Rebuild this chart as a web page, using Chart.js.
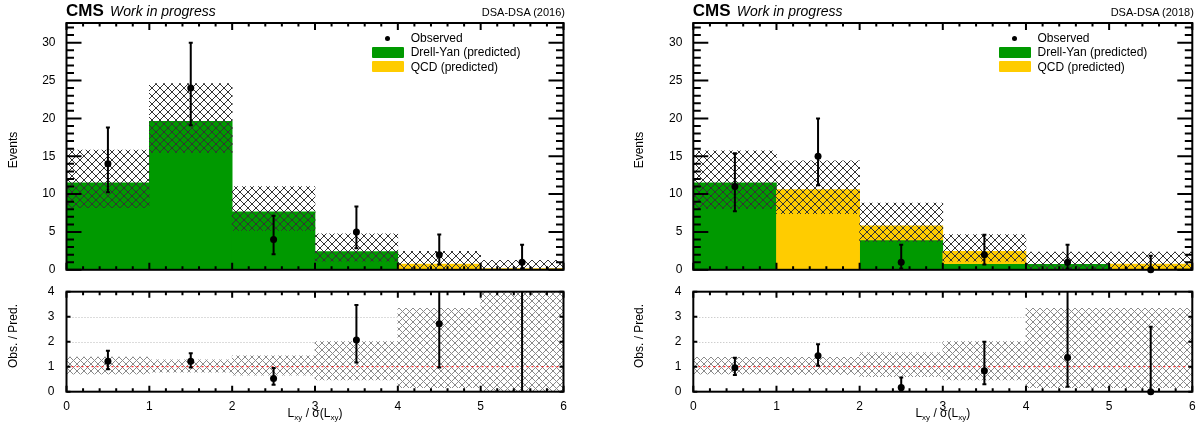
<!DOCTYPE html>
<html>
<head>
<meta charset="utf-8">
<script src="https://cdn.jsdelivr.net/npm/chart.js@4.4.1/dist/chart.umd.min.js"></script>
<style>
  html, body { margin: 0; padding: 0; background: #fff; }
  body { width: 1203px; height: 430px; position: relative; overflow: hidden;
         font-family: "Liberation Sans", Arial, Helvetica, sans-serif; color: #000; }
  canvas { position: absolute; }
  .t { position: absolute; white-space: nowrap; }
  .cms { font-weight: bold; font-size: 17px; line-height: 17px; }
  .wip { font-style: italic; font-size: 14px; line-height: 14px; }
  .tag { font-size: 11px; line-height: 11px; text-align: right; }
  .leg { font-size: 12px; line-height: 12px; }
  .box { position: absolute; border-radius: 1px; }
  .dot { position: absolute; width: 5.4px; height: 5.4px; border-radius: 50%; background: #000; }
  .xt { font-size: 12px; line-height: 12px; text-align: center; }
  .xt sub { font-size: 8px; vertical-align: -3px; line-height: 0; }
  .yt { font-size: 12px; line-height: 12px; transform: translate(-50%, -50%) rotate(-90deg); }
</style>
</head>
<body>
<script>
// Histogram bins in Lxy / sigma(Lxy)
const binCenters = [0.5, 1.5, 2.5, 3.5, 4.5, 5.5];

// ---- 2016 ----
const drellYan2016 = [11.5, 19.6, 7.65, 2.42, 0, 0];
const qcd2016      = [0, 0, 0, 0, 0.75, 0.15];
const predLow2016  = [8.2, 15.5, 5.2, 1.15, 0.12, 0];
const predHigh2016 = [15.8, 24.6, 11.0, 4.75, 2.43, 1.26];
const observed2016     = [14, 24, 4, 5, 2, 1];
const observedLow2016  = [10.25, 19.1, 2.05, 2.85, 0.7, 0.17];
const observedHigh2016 = [18.8, 30.0, 7.15, 8.35, 4.65, 3.3];
const ratio2016     = [1.22, 1.22, 0.53, 2.07, 2.72, 6.7];
const ratioLow2016  = [0.9, 0.97, 0.28, 1.17, 0.97, 0];
const ratioHigh2016 = [1.64, 1.54, 0.95, 3.47, 6.3, 22];
const ratioBandLow2016  = [0.7, 0.78, 0.66, 0.47, 0.16, 0];
const ratioBandHigh2016 = [1.38, 1.27, 1.43, 2.0, 3.33, 8.4];

// ---- 2018 ----
const drellYan2018 = [11.5, 0, 3.95, 0.82, 0.73, 0];
const qcd2018      = [0, 10.6, 1.87, 1.61, 0, 0.74];
const predLow2018  = [8.1, 7.4, 3.7, 1.14, 0.12, 0.12];
const predHigh2018 = [15.7, 14.4, 8.8, 4.65, 2.34, 2.34];
const observed2018     = [11, 15, 1, 2, 1, 0];
const observedLow2018  = [7.73, 11.17, 0.17, 0.71, 0.17, 0];
const observedHigh2018 = [15.38, 19.99, 3.3, 4.64, 3.3, 1.84];
const ratio2018     = [0.96, 1.44, 0.17, 0.84, 1.37, 0];
const ratioLow2018  = [0.67, 1.04, 0.03, 0.3, 0.2, 0];
const ratioHigh2018 = [1.36, 1.9, 0.57, 2.0, 4.5, 2.6];
const ratioBandLow2018  = [0.7, 0.68, 0.6, 0.47, 0.16, 0.16];
const ratioBandHigh2018 = [1.37, 1.37, 1.56, 2.0, 3.33, 3.33];

// axis ranges and ticks
const xRange = [0, 6];
const eventsMax = 32.6;
const ratioMax = 4;

const FONT = "'Liberation Sans', Arial, Helvetica, sans-serif";
const GREEN = '#009900';
const YELLOW = '#ffcc00';

function hatchPattern(ctx, color, bg, size) {
  const c = document.createElement('canvas');
  c.width = c.height = size;
  const g = c.getContext('2d');
  if (bg) { g.fillStyle = bg; g.fillRect(0, 0, size, size); }
  g.strokeStyle = color;
  g.lineWidth = 1;
  g.beginPath();
  for (const o of [-size, 0, size]) {
    g.moveTo(o, 0); g.lineTo(o + size, size);
    g.moveTo(o, size); g.lineTo(o + size, 0);
  }
  g.stroke();
  return ctx.createPattern(c, 'repeat');
}

// ROOT-style frame: inward ticks on all four sides, error bars, dotted guides
const rootAxes = {
  id: 'rootAxes',
  beforeDatasetsDraw(chart, args, o) {
    if (!o.guides) return;
    const { ctx, chartArea: a, scales: { y } } = chart;
    ctx.save();
    ctx.lineWidth = 1;
    ctx.strokeStyle = '#b9b9b9';
    ctx.setLineDash([1, 2]);
    for (const v of o.guides) {
      const py = Math.round(y.getPixelForValue(v)) + 0.5;
      ctx.beginPath(); ctx.moveTo(a.left, py); ctx.lineTo(a.right, py); ctx.stroke();
    }
    ctx.restore();
  },
  afterDatasetsDraw(chart, args, o) {
    const { ctx, chartArea: a, scales: { x, y } } = chart;
    ctx.save();
    ctx.setLineDash([]);
    ctx.strokeStyle = '#000';
    // error bars
    if (o.err) {
      const e = o.err;
      ctx.lineWidth = 2;
      ctx.beginPath();
      e.x.forEach((xv, i) => {
        const px = x.getPixelForValue(xv);
        const lo = Math.max(e.lo[i], y.min), hi = Math.min(e.hi[i], y.max);
        if (hi <= y.min || lo >= y.max) return;
        const pl = y.getPixelForValue(lo), ph = y.getPixelForValue(hi);
        ctx.moveTo(px, pl); ctx.lineTo(px, ph);
        if (e.hi[i] < y.max) { ctx.moveTo(px - 2, ph); ctx.lineTo(px + 2, ph); }
        if (e.lo[i] > y.min) { ctx.moveTo(px - 2, pl); ctx.lineTo(px + 2, pl); }
      });
      ctx.stroke();
    }
    // ticks
    ctx.lineWidth = 2;
    ctx.beginPath();
    const xTicks = (step, len) => {
      const n = Math.round((x.max - x.min) / step);
      for (let k = 0; k <= n; k++) {
        const px = x.getPixelForValue(x.min + k * step);
        ctx.moveTo(px, a.bottom); ctx.lineTo(px, a.bottom - len);
        ctx.moveTo(px, a.top); ctx.lineTo(px, a.top + len);
      }
    };
    const yTicks = (step, len) => {
      const n = Math.floor((y.max - y.min) / step + 1e-6);
      for (let k = 0; k <= n; k++) {
        const py = y.getPixelForValue(y.min + k * step);
        ctx.moveTo(a.left, py); ctx.lineTo(a.left + len, py);
        ctx.moveTo(a.right, py); ctx.lineTo(a.right - len, py);
      }
    };
    xTicks(o.xMajor, o.xMajLen);
    if (o.xMinor) xTicks(o.xMinor, o.xMinLen);
    yTicks(o.yMajor, o.yMajLen);
    if (o.yMinor) yTicks(o.yMinor, o.yMinLen);
    ctx.stroke();
    ctx.strokeRect(a.left, a.top, a.width, a.height);
    ctx.restore();
  }
};

function addCanvas(left, top, w, h) {
  const c = document.createElement('canvas');
  c.width = w; c.height = h;
  c.style.left = left + 'px'; c.style.top = top + 'px';
  document.body.appendChild(c);
  return c;
}

function barSet(label, data, color, order) {
  return { type: 'bar', label, data, backgroundColor: color, borderWidth: 0,
           grouped: false, barPercentage: 1, categoryPercentage: 1, order };
}

function panel(canvas, g, cfg) {
  return new Chart(canvas, {
    type: 'bar',
    data: { datasets: cfg.datasets },
    options: {
      responsive: false, animation: false, devicePixelRatio: 1, events: [],
      layout: { padding: { top: g.plotTop - g.canvasTop, right: g.x0 + g.w - g.plotR, left: 0, bottom: 0 } },
      plugins: { legend: { display: false }, tooltip: { enabled: false }, rootAxes: cfg.axes },
      scales: {
        x: {
          type: 'linear', min: xRange[0], max: xRange[1], offset: false,
          grid: { display: false }, border: { display: false },
          ticks: { display: cfg.xLabels, stepSize: 1, padding: 0, maxRotation: 0, autoSkip: false,
                   color: '#000', font: { family: FONT, size: 12 } },
          afterFit: s => { s.height = g.canvasTop + g.h - g.plotBottom; }
        },
        y: {
          type: 'linear', min: 0, max: cfg.yMax,
          grid: { display: false }, border: { display: false },
          ticks: { stepSize: cfg.yStep, includeBounds: false, padding: cfg.yPad,
                   color: '#000', font: { family: FONT, size: 12 } },
          afterFit: s => { s.width = g.plotL - g.x0; }
        }
      }
    },
    plugins: [rootAxes]
  });
}

function text(cls, html, style) {
  const d = document.createElement('div');
  d.className = 't ' + cls;
  d.innerHTML = html;
  Object.assign(d.style, style);
  document.body.appendChild(d);
  return d;
}

function drawYear(col, year, s) {
  // upper panel: event yields
  const gTop = { x0: col.x0, w: col.w, plotL: col.plotL, plotR: col.plotR,
                 canvasTop: 0, h: 280, plotTop: 23, plotBottom: 273 };
  const cTop = addCanvas(col.x0, 0, col.w, 280);
  const ctxTop = cTop.getContext('2d');
  const hatchTop = hatchPattern(ctxTop, '#333333', null, 8);
  panel(cTop, gTop, {
    yMax: eventsMax, yStep: 5, yPad: 3, xLabels: false,
    axes: { xMajor: 1, xMajLen: 7, xMinor: 0.2, xMinLen: 3.5, yMajor: 5, yMajLen: 15, yMinor: 1, yMinLen: 7.5,
            err: { x: binCenters, lo: s.obsLo, hi: s.obsHi } },
    datasets: [
      { type: 'scatter', label: 'Observed', data: binCenters.map((x, i) => ({ x, y: s.obs[i] })),
        pointRadius: 3.5, pointBackgroundColor: '#000', pointBorderWidth: 0, clip: false, order: 0 },
      barSet('Uncertainty', binCenters.map((x, i) => ({ x, y: [s.lo[i], s.hi[i]] })), hatchTop, 1),
      barSet('QCD (predicted)', binCenters.map((x, i) => ({ x, y: s.qcd[i] > 0 ? [s.dy[i], s.dy[i] + s.qcd[i]] : null })), YELLOW, 2),
      barSet('Drell-Yan (predicted)', binCenters.map((x, i) => ({ x, y: s.dy[i] > 0 ? [0, s.dy[i]] : null })), GREEN, 3)
    ]
  });

  // lower panel: observed / predicted
  const gBot = { x0: col.x0, w: col.w, plotL: col.plotL, plotR: col.plotR,
                 canvasTop: 280, h: 150, plotTop: 291.7, plotBottom: 391.7 };
  const cBot = addCanvas(col.x0, 280, col.w, 150);
  const ctxBot = cBot.getContext('2d');
  const hatchRatio = hatchPattern(ctxBot, '#8a8a8a', '#ffffff', 7);
  panel(cBot, gBot, {
    yMax: ratioMax, yStep: 1, yPad: 4, xLabels: true,
    axes: { xMajor: 1, xMajLen: 6, xMinor: 0.2, xMinLen: 3.5, yMajor: 1, yMajLen: 4,
            guides: [2, 3],
            err: { x: binCenters, lo: s.rLo, hi: s.rHi } },
    datasets: [
      { type: 'scatter', label: 'Obs. / Pred.',
        data: binCenters.map((x, i) => ({ x, y: s.r[i] <= ratioMax ? s.r[i] : null })),
        pointRadius: 3.5, pointBackgroundColor: '#000', pointBorderWidth: 0, clip: false, order: 0 },
      { type: 'line', label: 'Unity', data: [{ x: xRange[0], y: 1 }, { x: xRange[1], y: 1 }],
        borderColor: '#ff0000', borderWidth: 1, borderDash: [2, 3], pointRadius: 0, order: 1 },
      barSet('Uncertainty', binCenters.map((x, i) => ({ x, y: [s.rbLo[i], Math.min(s.rbHi[i], ratioMax)] })), hatchRatio, 2)
    ]
  });

  // header and legend
  const L = col.plotL, R = col.plotR;
  text('cms', 'CMS', { left: (L - 0.5) + 'px', top: '1.6px' });
  text('wip', 'Work in progress', { left: (L + 43.5) + 'px', top: '4.2px' });
  text('tag', 'DSA-DSA (' + year + ')', { right: (1203 - R - 1.5) + 'px', top: '7px' });
  const dot = document.createElement('div');
  dot.className = 'dot';
  dot.style.left = (L + 321.2 - 2.7) + 'px'; dot.style.top = (38.3 - 2.7) + 'px';
  document.body.appendChild(dot);
  const b1 = document.createElement('div');
  b1.className = 'box';
  Object.assign(b1.style, { left: (L + 305.2) + 'px', top: '47px', width: '32.6px', height: '10.7px', background: GREEN });
  document.body.appendChild(b1);
  const b2 = document.createElement('div');
  b2.className = 'box';
  Object.assign(b2.style, { left: (L + 305.2) + 'px', top: '61px', width: '32.6px', height: '11px', background: YELLOW });
  document.body.appendChild(b2);
  text('leg', 'Observed', { left: (L + 344.2) + 'px', top: '32.3px' });
  text('leg', 'Drell-Yan (predicted)', { left: (L + 344.2) + 'px', top: '46.3px' });
  text('leg', 'QCD (predicted)', { left: (L + 344.2) + 'px', top: '60.8px' });

  // axis titles
  const cx = (L + R) / 2;
  text('xt', 'L<sub>xy</sub> / σ(L<sub>xy</sub>)', { left: (cx - 60) + 'px', width: '120px', top: '406.5px' });
  text('yt', 'Events', { left: (L - 54) + 'px', top: '150px' });
  text('yt', 'Obs. / Pred.', { left: (L - 54) + 'px', top: '336px' });
}

drawYear({ x0: 0, w: 600, plotL: 66.5, plotR: 563.5 }, 2016, {
  dy: drellYan2016, qcd: qcd2016, lo: predLow2016, hi: predHigh2016,
  obs: observed2016, obsLo: observedLow2016, obsHi: observedHigh2016,
  r: ratio2016, rLo: ratioLow2016, rHi: ratioHigh2016,
  rbLo: ratioBandLow2016, rbHi: ratioBandHigh2016
});
drawYear({ x0: 627, w: 576, plotL: 693.3, plotR: 1192.3 }, 2018, {
  dy: drellYan2018, qcd: qcd2018, lo: predLow2018, hi: predHigh2018,
  obs: observed2018, obsLo: observedLow2018, obsHi: observedHigh2018,
  r: ratio2018, rLo: ratioLow2018, rHi: ratioHigh2018,
  rbLo: ratioBandLow2018, rbHi: ratioBandHigh2018
});
</script>
</body>
</html>
